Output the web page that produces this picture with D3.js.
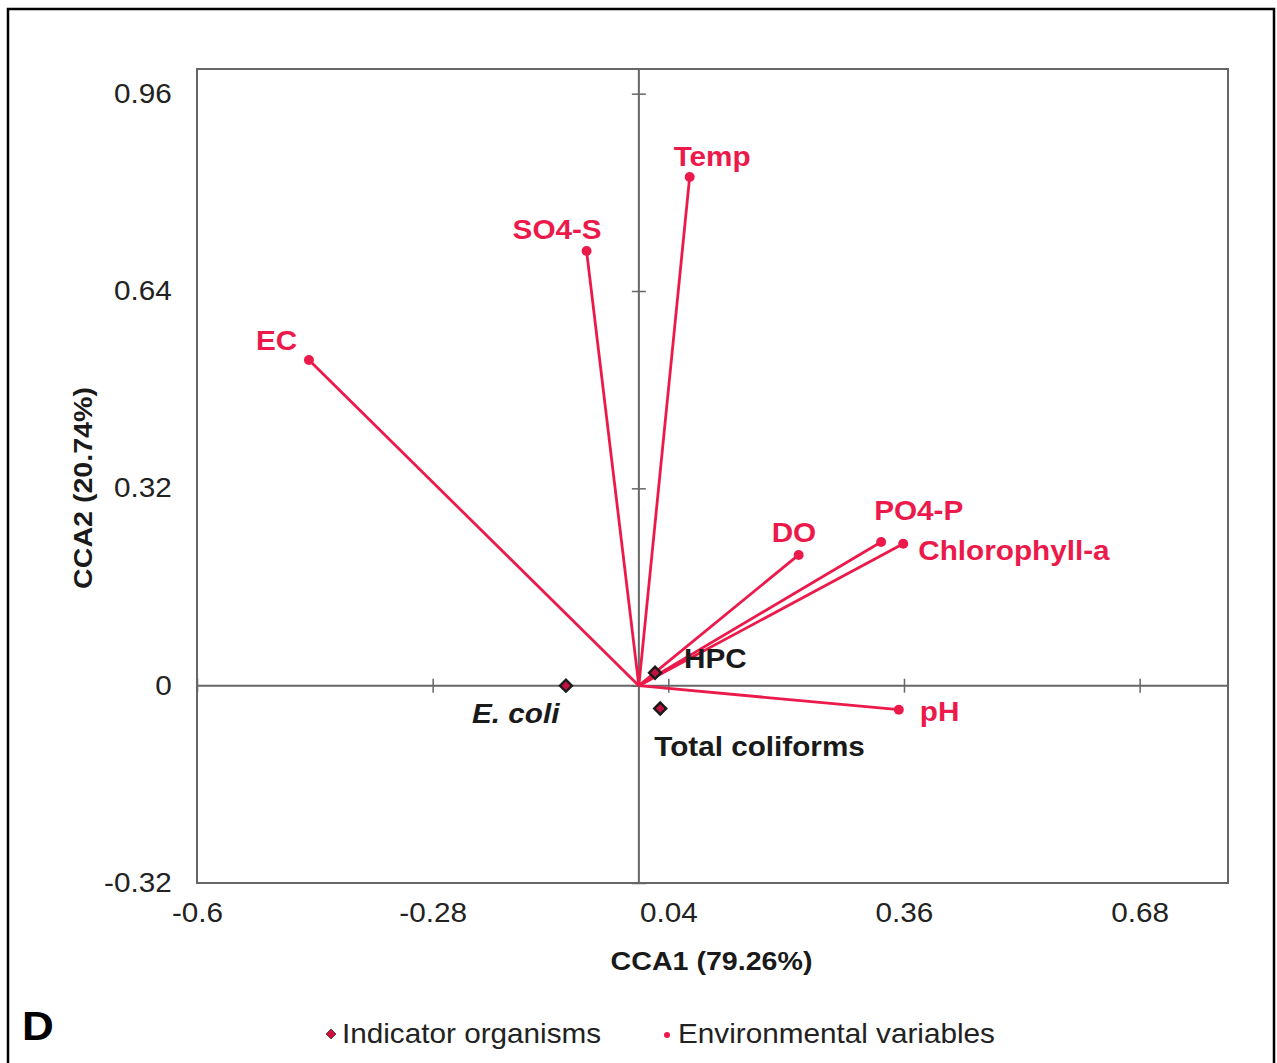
<!DOCTYPE html>
<meta charset="utf-8">
<style>

body {
  margin: 0;
  background: #fff;
}

text {
  font-family: "Liberation Sans", Arial, sans-serif;
}

</style>
<svg></svg>
<script src="https://d3js.org/d3.v7.min.js"></script>
<script>

// environmental variables (arrow tips)
var envNames = ["Temp", "SO4-S", "EC", "DO", "PO4-P", "Chlorophyll-a", "pH"],
    envX = [0.069, -0.071, -0.448, 0.217, 0.329, 0.359, 0.353],
    envY = [0.825, 0.705, 0.528, 0.212, 0.233, 0.230, -0.039];

// indicator organisms
var orgNames = ["E. coli", "HPC", "Total coliforms"],
    orgX = [-0.099, 0.022, 0.029],
    orgY = [0.0, 0.021, -0.037];

var xTicks = [-0.6, -0.28, 0.04, 0.36, 0.68],
    yTicks = [-0.32, 0, 0.32, 0.64, 0.96];

// label placement, pixels from the point
var envLabelOffset = [[-16, -20], [-74, -21], [-53, -20], [-27, -22], [-7, -31], [15, 7], [21, 2]],
    orgLabelOffset = [[-94, 28], [29, -14], [-6, 38]];

var width = 1277,
    height = 1063,
    red = "#ec1a4b",
    sx = 1.1; // the figure's text is a bit wide

// plot frame edges ("top" is taken by window.top)
var pLeft = 197, pRight = 1228, pTop = 69, pBottom = 883;

var x = d3.scaleLinear().domain([-0.6, 0.8]).range([pLeft, pRight]),
    y = d3.scaleLinear().domain([-0.32, 1.0]).range([pBottom, pTop]);

var svg = d3.select("svg")
    .attr("width", width)
    .attr("height", height);

svg.append("rect")
    .attr("width", width)
    .attr("height", height)
    .attr("fill", "#fff");

// outer figure border
svg.append("rect")
    .attr("x", 8).attr("y", 9)
    .attr("width", 1266).attr("height", 1070)
    .attr("fill", "none")
    .attr("stroke", "#000")
    .attr("stroke-width", 2.5);

// plot frame
svg.append("rect")
    .attr("x", pLeft).attr("y", pTop)
    .attr("width", pRight - pLeft).attr("height", pBottom - pTop)
    .attr("fill", "none")
    .attr("stroke", "#666")
    .attr("stroke-width", 2);

// zero lines with cross ticks
function crossAxis(axisA, axisB, tr) {
  [axisA, axisB].forEach(function(a) {
    var g = svg.append("g").attr("transform", tr).call(a);
    g.select(".domain").remove();
    g.selectAll("line").attr("stroke", "#666").attr("stroke-width", 1.5);
  });
}

crossAxis(
  d3.axisTop(x).tickValues(xTicks).tickSize(7).tickFormat(""),
  d3.axisBottom(x).tickValues(xTicks).tickSize(7).tickFormat(""),
  "translate(0," + y(0) + ")");

crossAxis(
  d3.axisLeft(y).tickValues(yTicks).tickSize(7).tickFormat(""),
  d3.axisRight(y).tickValues(yTicks).tickSize(7).tickFormat(""),
  "translate(" + x(0) + ",0)");

svg.append("line")
    .attr("x1", pLeft).attr("x2", pRight)
    .attr("y1", y(0)).attr("y2", y(0))
    .attr("stroke", "#666").attr("stroke-width", 2);

svg.append("line")
    .attr("x1", x(0)).attr("x2", x(0))
    .attr("y1", pTop).attr("y2", pBottom)
    .attr("stroke", "#666").attr("stroke-width", 2);

// tick labels at the frame
var xAxis = svg.append("g")
    .attr("transform", "translate(0," + pBottom + ")")
    .call(d3.axisBottom(x).tickValues(xTicks).tickSize(0).tickPadding(20).tickFormat(String));

var yAxis = svg.append("g")
    .attr("transform", "translate(" + pLeft + ",0)")
    .call(d3.axisLeft(y).tickValues(yTicks).tickSize(0).tickPadding(23).tickFormat(String));

[xAxis, yAxis].forEach(function(g) {
  g.select(".domain").remove();
  g.selectAll("text")
      .attr("font-family", "'Liberation Sans', Arial, sans-serif")
      .attr("font-size", 27)
      .attr("fill", "#222")
      .attr("transform", "scale(" + sx + ",1)");
});

function label(str, px, py, opt) {
  opt = opt || {};
  var t = svg.append("text")
      .attr("transform", "translate(" + px + "," + py + ")" + (opt.rotate ? " rotate(" + opt.rotate + ")" : "") + " scale(" + sx + ",1)")
      .attr("dy", "0.35em")
      .attr("text-anchor", opt.anchor || "start")
      .attr("font-size", opt.size || 27)
      .attr("font-weight", opt.weight || "bold")
      .attr("fill", opt.fill || "#1a1a1a")
      .text(str);
  if (opt.italic) t.attr("font-style", "italic");
  return t;
}

// axis titles
label("CCA1 (79.26%)", (pLeft + pRight) / 2 - 1, 961, {anchor: "middle", size: 26});
label("CCA2 (20.74%)", 83, 488, {anchor: "middle", size: 26, rotate: -90});

// environmental arrows
var env = envNames.map(function(n, i) { return {name: n, x: envX[i], y: envY[i], off: envLabelOffset[i]}; });

svg.append("g").selectAll("line")
  .data(env)
  .join("line")
    .attr("x1", x(0)).attr("y1", y(0))
    .attr("x2", function(d) { return x(d.x); })
    .attr("y2", function(d) { return y(d.y); })
    .attr("stroke", red)
    .attr("stroke-width", 2.8);

svg.append("g").selectAll("circle")
  .data(env)
  .join("circle")
    .attr("cx", function(d) { return x(d.x); })
    .attr("cy", function(d) { return y(d.y); })
    .attr("r", 5)
    .attr("fill", red);

env.forEach(function(d) {
  label(d.name, x(d.x) + d.off[0], y(d.y) + d.off[1], {fill: red});
});

// indicator organisms
var org = orgNames.map(function(n, i) { return {name: n, x: orgX[i], y: orgY[i], off: orgLabelOffset[i]}; });

var diamond = d3.symbol().type(d3.symbolSquare).size(72);

svg.append("g").selectAll("path")
  .data(org)
  .join("path")
    .attr("d", diamond)
    .attr("transform", function(d) { return "translate(" + x(d.x) + "," + y(d.y) + ") rotate(45)"; })
    .attr("fill", "#c01240")
    .attr("stroke", "#1a1a1a")
    .attr("stroke-width", 2.4);

org.forEach(function(d) {
  label(d.name, x(d.x) + d.off[0], y(d.y) + d.off[1], {italic: d.name === "E. coli"});
});

// panel letter
label("D", 22, 1026, {size: 40, weight: "bold", fill: "#000"});

// legend
svg.append("path")
    .attr("d", d3.symbol().type(d3.symbolSquare).size(50))
    .attr("transform", "translate(331,1034) rotate(45)")
    .attr("fill", "#d0103a")
    .attr("stroke", "#3a3a3a")
    .attr("stroke-width", 0.8);
label("Indicator organisms", 342, 1034, {weight: "normal", size: 27, fill: "#222"});

svg.append("circle")
    .attr("cx", 667).attr("cy", 1035)
    .attr("r", 3)
    .attr("fill", red);
label("Environmental variables", 678, 1034, {weight: "normal", size: 27, fill: "#222"});

</script>
